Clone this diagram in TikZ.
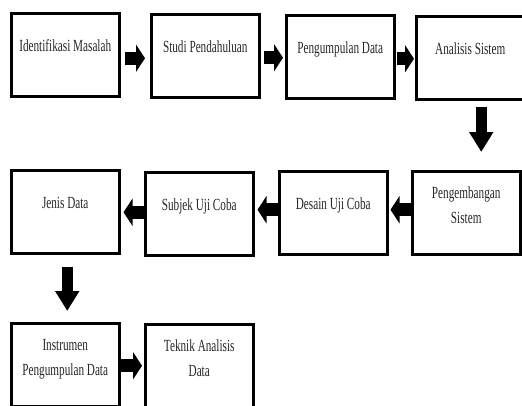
\documentclass[tikz,border=0pt]{standalone}
\usepackage{fontspec}
\newfontfamily\boxfont[FakeStretch=0.66]{Liberation Serif}
\usepackage{tikz}
\usetikzlibrary{
  calc,
  arrows.meta
}
\tikzstyle{box}=[draw, line width=2.5pt, anchor=north west, inner sep=0pt,
  text width=108pt, align=flush center, text height=38pt, text depth=45pt,
  font=\boxfont\fontsize{17}{25.5}\selectfont, text=black!85]
\tikzstyle{twoline}=[text height=27pt, text depth=56pt]
\tikzstyle{harrow}=[line width=13pt, -{Triangle[length=9pt, width=27pt]}]
\tikzstyle{varrow}=[line width=11pt, -{Triangle[length=20pt, width=23pt]}]

\begin{document}
\begin{tikzpicture}[x=1pt, y=-1pt]
    % 描画範囲
    \useasboundingbox (0,0) rectangle (522,405);
    \clip (0,0) rectangle (522,405);

    % 1行目の箱
    \node[box] (idm) at (10,12) {Identifikasi Masalah};
    \node[box] (sp) at (150,13) {Studi Pendahuluan};
    \node[box] (pd) at (285,14) {Pengumpulan Data};
    \node[box] (as) at (415,15) {Analisis Sistem};

    % 2行目の箱
    \node[box, twoline] (ps) at (411,170) {Pengembangan\\ Sistem};
    \node[box] (duc) at (278,170) {Desain Uji Coba};
    \node[box] (suc) at (144,171) {Subjek Uji Coba};
    \node[box] (jd) at (10,169) {Jenis Data};

    % 3行目の箱
    \node[box, twoline] (ipd) at (10,322) {Instrumen\\ Pengumpulan Data};
    \node[box, twoline] (tad) at (144,323) {Teknik Analisis\\ Data};

    % 右向きの矢印
    \draw[harrow, shorten >=5pt] ([shift={(4,3.5)}]idm.east) coordinate (t) -- (t -| sp.west);
    \draw[harrow, shorten >=2pt] ([shift={(3,2)}]sp.east) coordinate (t) -- (t -| pd.west);
    \draw[harrow, shorten >=1pt] ([shift={(1,2)}]pd.east) coordinate (t) -- (t -| as.west);

    % 下向きの矢印
    \draw[varrow, shorten >=18pt] ([shift={(11,6)}]as.south) coordinate (t) -- (t |- ps.north);

    % 左向きの矢印
    \draw[harrow, shorten >=2pt] ([shift={(0,-3)}]ps.west) coordinate (t) -- (t -| duc.east);
    \draw[harrow, shorten >=3pt] ([shift={(0,-3)}]duc.west) coordinate (t) -- (t -| suc.east);
    \draw[harrow, shorten >=3pt] ([shift={(0,-1.5)}]suc.west) coordinate (t) -- (t -| jd.east);

    % 3行目への矢印
    \draw[varrow, shorten >=11pt] ([shift={(2,12)}]jd.south) coordinate (t) -- (t |- ipd.north);
    \draw[harrow, shorten >=2pt] ([shift={(0,1)}]ipd.east) coordinate (t) -- (t -| tad.west);
\end{tikzpicture}
\end{document}
